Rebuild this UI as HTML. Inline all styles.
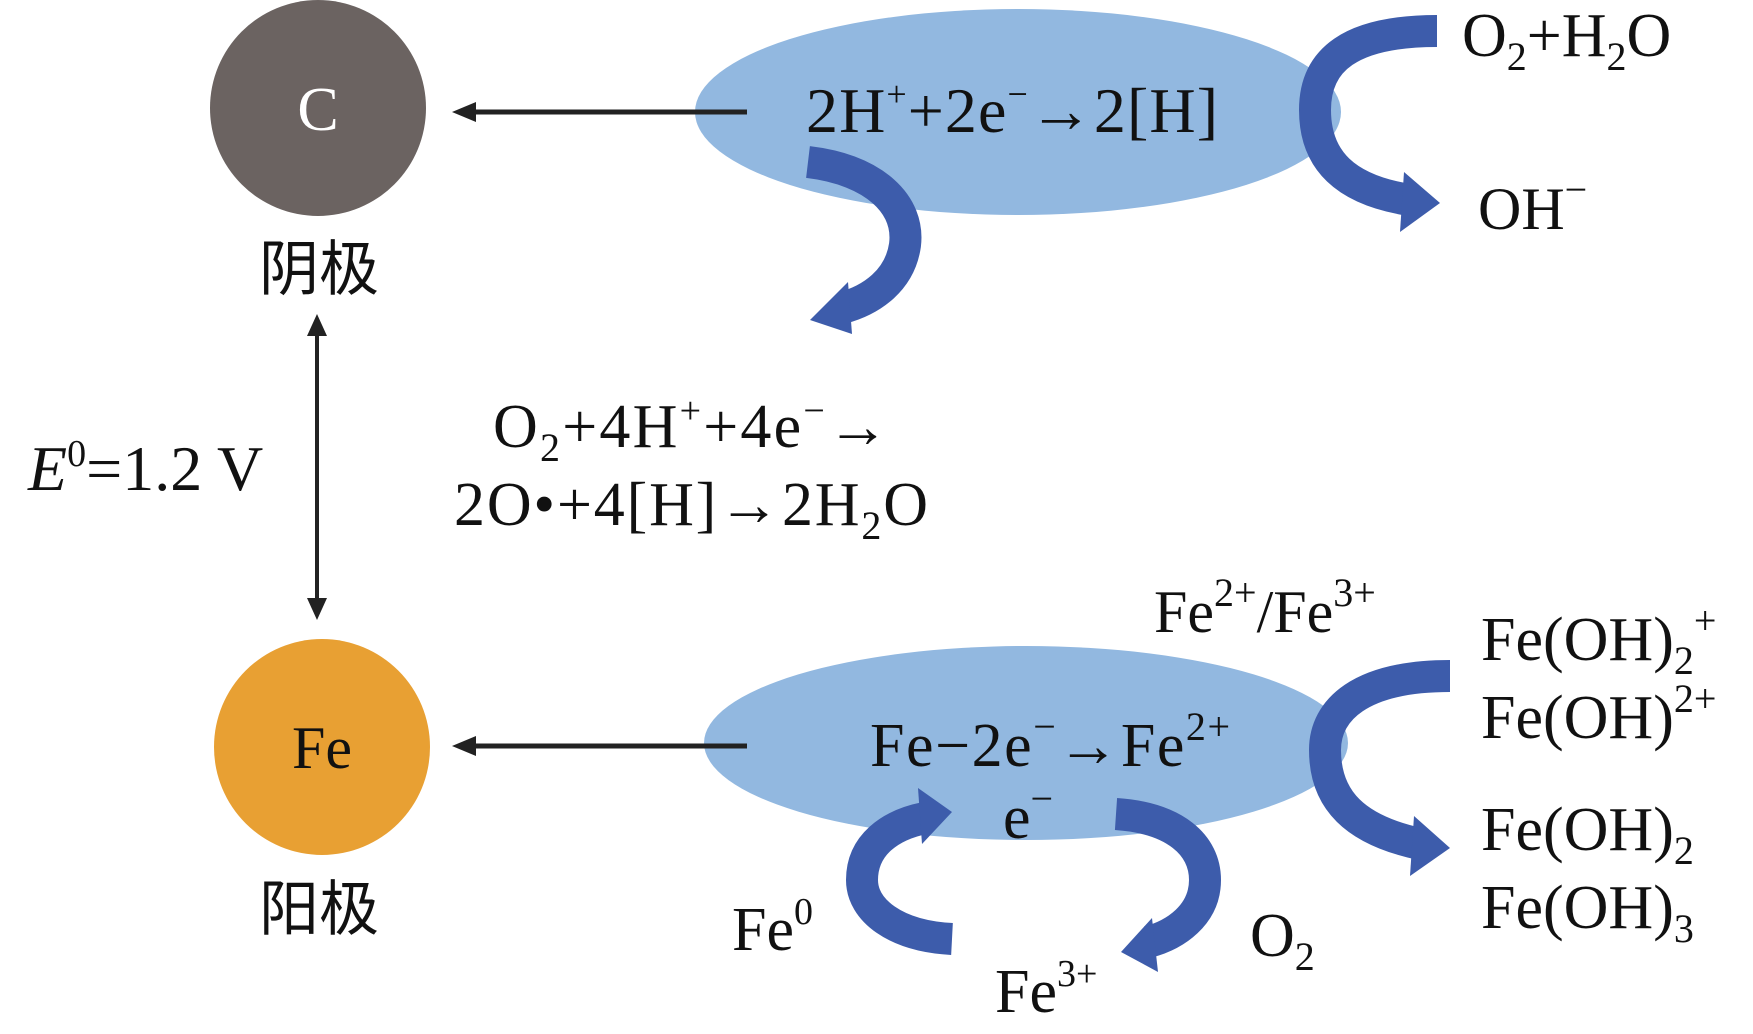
<!DOCTYPE html>
<html><head><meta charset="utf-8"><style>
html,body{margin:0;padding:0;background:#fff;}
svg{display:block;}
text{font-family:"Liberation Serif","Noto Serif CJK SC",serif;fill:#111;}
.cj{font-family:"Noto Sans CJK SC","WenQuanYi Zen Hei",sans-serif;}
</style></head><body>
<svg width="1753" height="1034" viewBox="0 0 1753 1034" xmlns="http://www.w3.org/2000/svg">
<!-- ellipses -->
<ellipse cx="1018" cy="112" rx="323" ry="103" fill="#92b8e0"/>
<ellipse cx="1026" cy="743" rx="322" ry="97" fill="#92b8e0"/>
<!-- circles -->
<circle cx="318" cy="108" r="108" fill="#6b6361"/>
<circle cx="322" cy="747" r="108" fill="#e8a033"/>
<text x="318" y="130" font-size="62" text-anchor="middle" style="fill:#fff">C</text>
<text x="322" y="768" font-size="60" text-anchor="middle">Fe</text>
<text x="319" y="290" font-size="60" text-anchor="middle" class="cj">阴极</text>
<text x="319" y="930" font-size="60" text-anchor="middle" class="cj">阳极</text>
<!-- connector lines -->
<line x1="747" y1="112" x2="462" y2="112" stroke="#222" stroke-width="5"/>
<polygon points="452,112 476,102 476,122" fill="#222"/>
<line x1="747" y1="746" x2="462" y2="746" stroke="#222" stroke-width="5"/>
<polygon points="452,746 476,736 476,756" fill="#222"/>
<line x1="317" y1="330" x2="317" y2="604" stroke="#222" stroke-width="4"/>
<polygon points="317,314 307,336 327,336" fill="#222"/>
<polygon points="317,620 307,598 327,598" fill="#222"/>
<!-- texts -->
<text x="28" y="490" font-size="64"><tspan font-style="italic">E</tspan><tspan dy="-24" font-size="38">0</tspan><tspan dy="24">=1.2 V</tspan></text>
<text x="1012" y="132" font-size="64" text-anchor="middle" textLength="412">2H<tspan dy="-26" font-size="36">+</tspan><tspan dy="26">+2e</tspan><tspan dy="-26" font-size="36">−</tspan><tspan dy="26">→2[H]</tspan></text>
<text x="1462" y="56" font-size="62">O<tspan dy="14" font-size="40">2</tspan><tspan dy="-14">+H</tspan><tspan dy="14" font-size="40">2</tspan><tspan dy="-14">O</tspan></text>
<text x="1478" y="229" font-size="60">OH<tspan dy="-26" font-size="40">−</tspan></text>
<text x="691" y="447" font-size="62" text-anchor="middle" textLength="396">O<tspan dy="14" font-size="40">2</tspan><tspan dy="-14">+4H</tspan><tspan dy="-24" font-size="38">+</tspan><tspan dy="24">+4e</tspan><tspan dy="-24" font-size="38">−</tspan><tspan dy="24">→</tspan></text>
<text x="691" y="525" font-size="62" text-anchor="middle" textLength="474">2O•+4[H]→2H<tspan dy="14" font-size="40">2</tspan><tspan dy="-14">O</tspan></text>
<text x="1154" y="632" font-size="60">Fe<tspan dy="-26" font-size="40">2+</tspan><tspan dy="26">/Fe</tspan><tspan dy="-26" font-size="40">3+</tspan></text>
<text x="1050" y="766" font-size="62" text-anchor="middle" textLength="360">Fe−2e<tspan dy="-26" font-size="40">−</tspan><tspan dy="26">→Fe</tspan><tspan dy="-26" font-size="40">2+</tspan></text>
<text x="1003" y="838" font-size="62">e<tspan dy="-26" font-size="40">−</tspan></text>
<text x="732" y="950" font-size="62">Fe<tspan dy="-26" font-size="38">0</tspan></text>
<text x="995" y="1012" font-size="62">Fe<tspan dy="-26" font-size="38">3+</tspan></text>
<text x="1250" y="956" font-size="62">O<tspan dy="14" font-size="40">2</tspan></text>
<text x="1481" y="660" font-size="62">Fe(OH)<tspan dy="14" font-size="40">2</tspan><tspan dy="-40" font-size="40">+</tspan></text>
<text x="1481" y="738" font-size="62">Fe(OH)<tspan dy="-26" font-size="40">2+</tspan></text>
<text x="1481" y="850" font-size="62">Fe(OH)<tspan dy="14" font-size="40">2</tspan></text>
<text x="1481" y="928" font-size="62">Fe(OH)<tspan dy="14" font-size="40">3</tspan></text>
<!-- curved arrows -->
<g fill="none" stroke="#3d5cab" stroke-width="32">
<path d="M1437,31 C1350,31 1315,60 1315,110 C1315,160 1345,190 1410,200"/>
<path d="M808,162 C875,170 910,205 905,245 C900,280 872,300 842,308"/>
<path d="M1450,676 C1360,676 1325,710 1325,750 C1325,800 1355,830 1420,844"/>
<path d="M952,939 C895,936 862,910 862,880 C862,845 890,825 925,818"/>
<path d="M1116,814 C1175,818 1205,845 1205,880 C1205,915 1175,935 1148,942"/>
</g>
<g fill="#3d5cab">
<polygon points="1440,203 1404,172 1400,232"/>
<polygon points="810,320 848,282 852,334"/>
<polygon points="1450,848 1414,816 1410,876"/>
<polygon points="952,812 918,788 922,844"/>
<polygon points="1121,952 1152,918 1158,972"/>
</g>
</svg>
</body></html>
